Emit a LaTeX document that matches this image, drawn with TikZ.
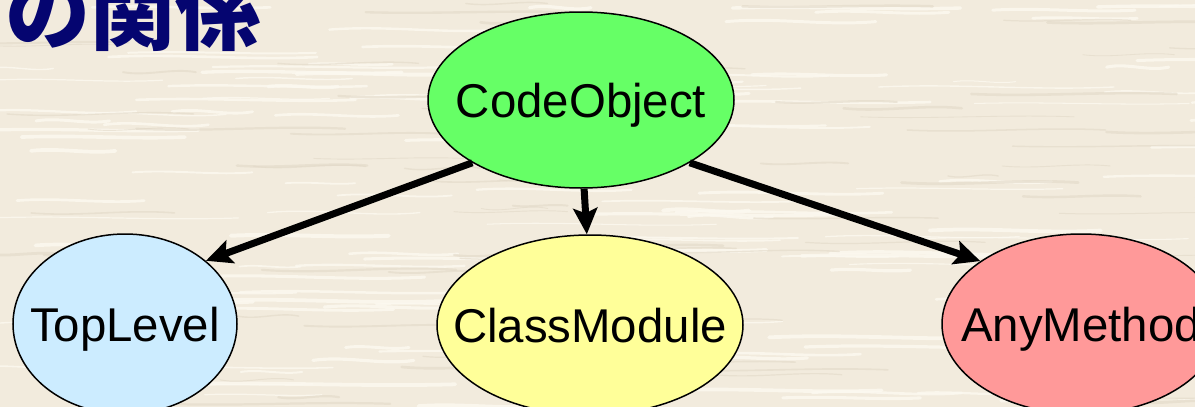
\documentclass[tikz,border=0pt]{standalone}
\usepackage{fontspec}
\setmainfont{Liberation Sans}
\newfontfamily\cjkfont{Noto Sans CJK JP}
\usetikzlibrary{shapes.geometric, arrows.meta}

\definecolor{bg}{RGB}{242,235,221}
\definecolor{streaklight}{RGB}{252,249,240}
\definecolor{streakdark}{RGB}{226,217,200}
\definecolor{cogreen}{RGB}{102,255,102}
\definecolor{tlblue}{RGB}{204,236,255}
\definecolor{cmyellow}{RGB}{255,255,153}
\definecolor{ampink}{RGB}{255,153,153}
\definecolor{titleblue}{RGB}{5,5,112}

\begin{document}
\begin{tikzpicture}[x=1pt,y=-1pt,
  cls/.style={ellipse, draw=black, line width=1.5pt, inner sep=0pt,
    text height=34pt, text depth=0pt,
    font=\fontsize{47.4pt}{50pt}\selectfont},
  inherit/.style={line width=7pt, -{Stealth[length=26pt,width=24pt,inset=5pt]}},
  streak/.style={line cap=round}]
\useasboundingbox (0,0) rectangle (1195,407);
\clip (0,0) rectangle (1195,407);
\fill[bg] (0,0) rectangle (1195,407);
% paper texture
\pgfmathsetseed{11}
\foreach \i in {1,...,140} {
  \pgfmathsetmacro\xx{rnd*1250-40}
  \pgfmathsetmacro\yy{rnd*420}
  \pgfmathsetmacro\ll{60+rnd*220}
  \pgfmathsetmacro\ww{1+rnd*3}
  \pgfmathsetmacro\aa{2+rnd*3}
  \draw[streak, streaklight, opacity=0.8, line width=\ww pt]
    (\xx,\yy) .. controls (\xx+\ll/3,\yy-\aa) and (\xx+2*\ll/3,\yy+\aa) .. (\xx+\ll,\yy);
}
\foreach \i in {1,...,90} {
  \pgfmathsetmacro\xx{rnd*1250-40}
  \pgfmathsetmacro\yy{rnd*420}
  \pgfmathsetmacro\ll{50+rnd*180}
  \pgfmathsetmacro\ww{0.8+rnd*2}
  \pgfmathsetmacro\aa{2+rnd*3}
  \draw[streak, streakdark, opacity=0.6, line width=\ww pt]
    (\xx,\yy) .. controls (\xx+\ll/3,\yy+\aa) and (\xx+2*\ll/3,\yy-\aa) .. (\xx+\ll,\yy);
}
% title (cut off at the left edge)
\node[anchor=base west, inner sep=0pt, text=titleblue,
  font=\cjkfont\bfseries\fontsize{85pt}{90pt}\selectfont] (title) at (-80,43) {スの関係};
% classes
\node[cls, fill=cogreen, minimum width=306pt, minimum height=176pt] (co) at (581,100) {\makebox[0pt]{CodeObject}};
\node[cls, fill=tlblue, minimum width=224pt, minimum height=180pt] (tl) at (125,324) {\makebox[0pt]{TopLevel}};
\node[cls, fill=cmyellow, minimum width=306pt, minimum height=180pt] (cm) at (590,325) {\makebox[0pt]{ClassModule}};
\node[cls, fill=ampink, minimum width=278pt, minimum height=180pt] (am) at (1081,324) {\makebox[0pt]{AnyMethod}};
% inheritance arrows
\draw[inherit] (co.210) -- (tl.38);
\draw[inherit] (co.272) -- (cm.92);
\draw[inherit] (co.330) -- (am.148);
\end{tikzpicture}
\end{document}
